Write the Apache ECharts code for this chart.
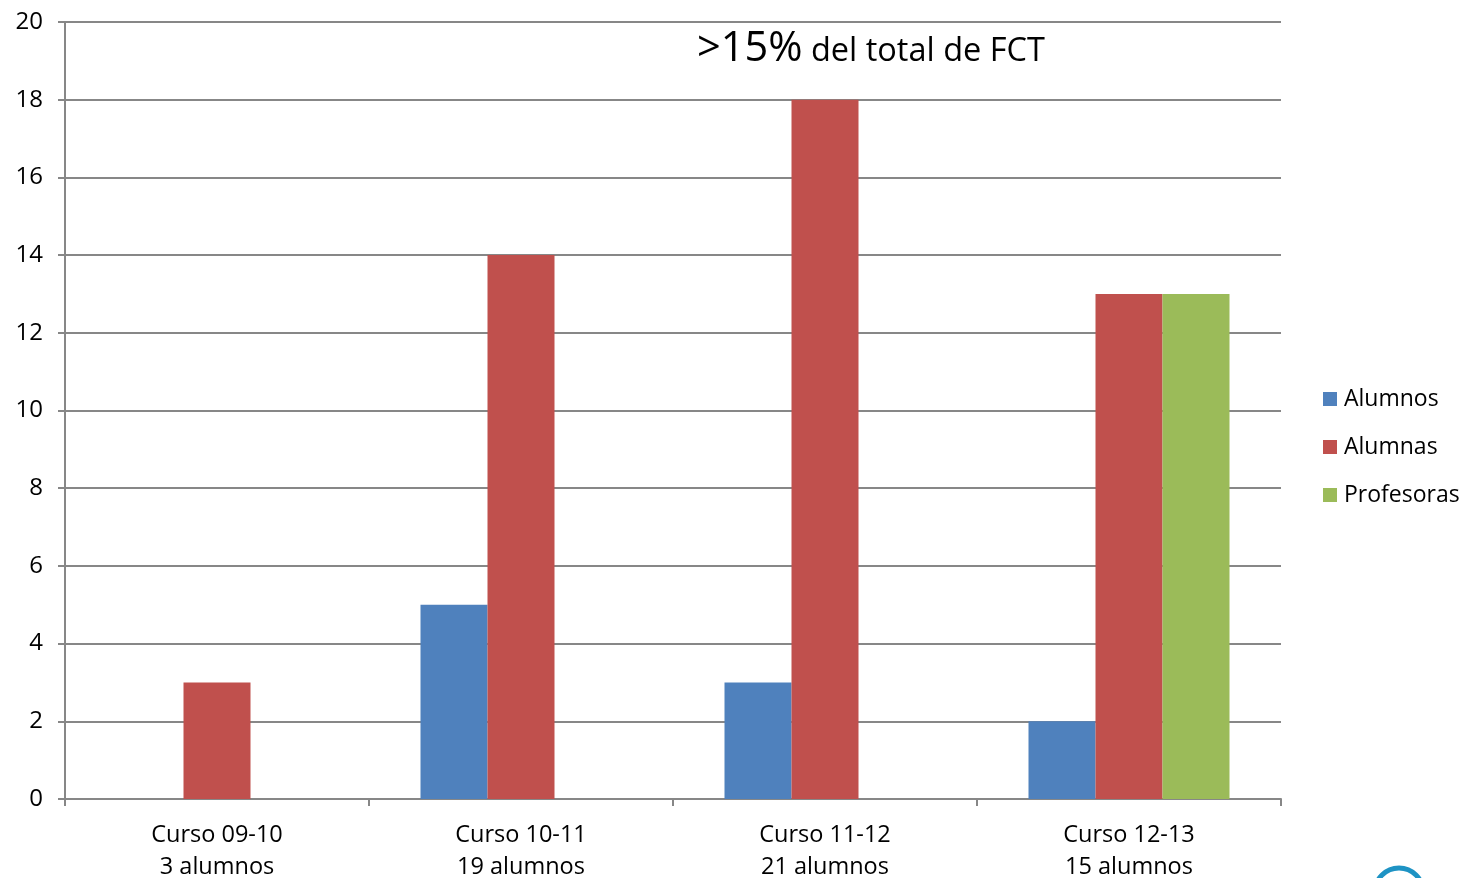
<!DOCTYPE html>
<html><head><meta charset="utf-8">
<script src="https://cdn.jsdelivr.net/npm/echarts@6/dist/echarts.min.js"></script>
<style>html,body{margin:0;padding:0;background:#fff}#c{width:1463px;height:878px}</style>
</head><body><div id="c"></div>
<script>
const categories = ['Curso 09-10\n3 alumnos', 'Curso 10-11\n19 alumnos', 'Curso 11-12\n21 alumnos', 'Curso 12-13\n15 alumnos'];
const alumnos = ['-', 5, 3, 2];
const alumnas = [3, 14, 18, 13];
const profesoras = ['-', '-', '-', 13];
const yTicks = { min: 0, max: 20, interval: 2 };

const FONT = '"Open Sans", "Noto Sans", sans-serif';
const chart = echarts.init(document.getElementById('c'), null, { renderer: 'canvas' });
const gray = '#878787';
chart.setOption({
  animation: false,
  textStyle: { fontFamily: FONT },
  title: {
    left: 692, top: 23,
    text: '{a|>15%}{b| del total de FCT}',
    textStyle: {
      fontWeight: 'normal',
      rich: {
        a: { fontSize: 41.5, color: '#000', fontFamily: FONT, fontWeight: 'normal' },
        b: { fontSize: 32.5, color: '#000', fontFamily: FONT, fontWeight: 'normal', padding: [6, 0, 0, 0] }
      }
    }
  },
  legend: {
    orient: 'vertical', left: 1318, top: 382,
    itemWidth: 14, itemHeight: 14, itemGap: 24, icon: 'rect',
    textStyle: { fontSize: 23, color: '#000', fontFamily: FONT, lineHeight: 24, padding: [0, 0, 0, 2] },
    data: ['Alumnos', 'Alumnas', 'Profesoras']
  },
  grid: { left: 65, right: 182, top: 22, bottom: 79, containLabel: false, outerBoundsMode: 'none' },
  xAxis: {
    type: 'category', data: categories,
    axisLine: { lineStyle: { color: gray, width: 2 } },
    axisTick: { show: true, length: 7, lineStyle: { color: gray, width: 2 } },
    axisLabel: { color: '#000', fontSize: 23.5, lineHeight: 32, margin: 20, fontFamily: FONT }
  },
  yAxis: {
    type: 'value', min: yTicks.min, max: yTicks.max, interval: yTicks.interval,
    axisLine: { show: true, lineStyle: { color: gray, width: 2 } },
    axisTick: { show: true, length: 7, lineStyle: { color: gray, width: 2 } },
    splitLine: { lineStyle: { color: gray, width: 2 } },
    axisLabel: { color: '#000', fontSize: 24, margin: 22, fontFamily: FONT }
  },
  series: [
    { name: 'Alumnos', type: 'bar', data: alumnos, barWidth: 67, barGap: '0%', itemStyle: { color: '#4F81BD' } },
    { name: 'Alumnas', type: 'bar', data: alumnas, barWidth: 67, barGap: '0%', itemStyle: { color: '#C0504D' } },
    { name: 'Profesoras', type: 'bar', data: profesoras, barWidth: 67, barGap: '0%', itemStyle: { color: '#9BBB59' } }
  ],
  graphic: [
    { type: 'circle', shape: { cx: 1399, cy: 892, r: 24 }, style: { fill: 'none', stroke: '#1E93C4', lineWidth: 5 } }
  ]
});
</script></body></html>
